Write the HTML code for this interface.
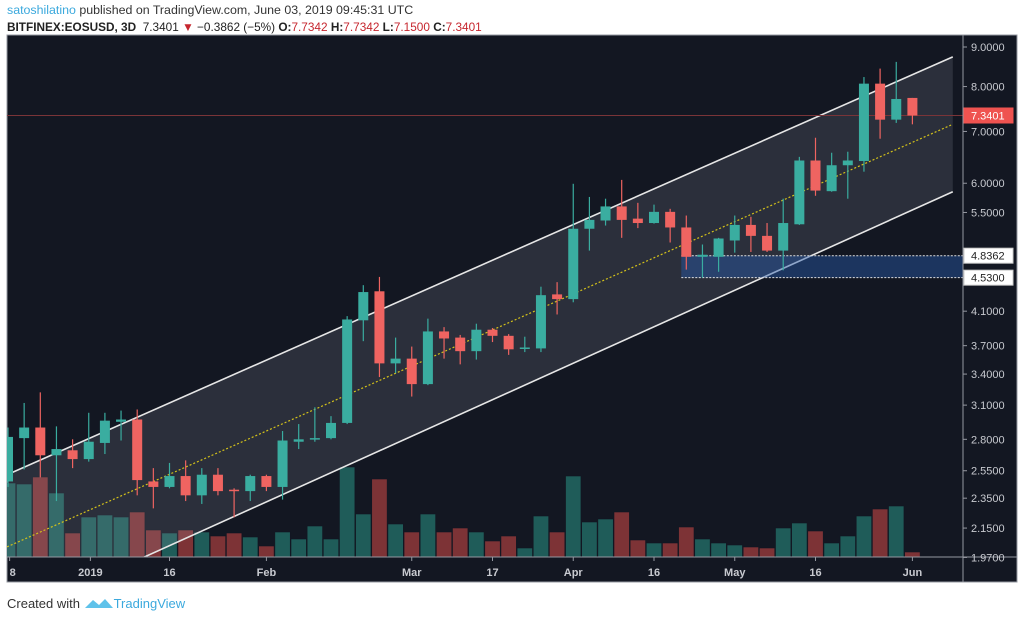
<!DOCTYPE html>
<html><head><meta charset="utf-8">
<style>
html,body{margin:0;padding:0;background:#fff;width:1024px;height:619px;overflow:hidden;font-family:"Liberation Sans",sans-serif;}
#hdr1{position:absolute;left:7px;top:3px;font-size:12.4px;color:#333;}
#hdr1 .u{color:#3ba9dd;}
#hdr2{position:absolute;left:7px;top:20px;font-size:11.8px;color:#222;}
#hdr2 b{font-weight:bold;}
#hdr2 .r{color:#c6262e;}
#foot{position:absolute;left:7px;top:594px;font-size:13px;color:#333;}
#foot .tv{color:#3ba9dd;}
svg{position:absolute;left:0;top:0;}
</style></head>
<body>
<div id="hdr1"><span class="u">satoshilatino</span> published on TradingView.com, June 03, 2019 09:45:31 UTC</div>
<div id="hdr2"><b>BITFINEX:EOSUSD, 3D</b>&nbsp; 7.3401 <span class="r">▼</span> −0.3862 (−5%) <b>O:</b><span class="r">7.7342</span> <b>H:</b><span class="r">7.7342</span> <b>L:</b><span class="r">7.1500</span> <b>C:</b><span class="r">7.3401</span></div>
<svg id="chart" width="1024" height="619"></svg>
<div id="foot">Created with <svg width="30" height="14" viewBox="0 0 30 14" style="position:relative;left:0;top:2px;display:inline-block"><path d="M1 12 L9 4 L15 9 L21 3 L29 12 Z" fill="#5fc2ea"/></svg><span class="tv">TradingView</span></div>
<script>
const opens  =[2.47,2.81,2.90,2.67,2.71,2.64,2.77,2.95,2.97,2.47,2.43,2.51,2.37,2.52,2.41,2.40,2.51,2.43,2.78,2.80,2.81,2.94,3.99,4.35,3.51,3.56,3.30,3.86,3.79,3.64,3.88,3.81,3.67,3.67,4.31,4.25,5.24,5.37,5.60,5.40,5.33,5.51,5.26,4.82,4.82,5.06,5.30,5.13,4.91,5.31,6.42,5.86,6.33,6.41,8.07,7.25,7.7342];
const highs  =[2.90,3.12,3.22,2.91,2.80,3.03,3.03,3.05,3.06,2.57,2.61,2.63,2.57,2.57,2.42,2.52,2.52,2.87,2.93,3.08,3.00,4.04,4.43,4.54,3.79,3.69,4.01,3.91,3.82,3.95,3.90,3.83,3.80,4.41,4.47,5.99,5.76,5.73,6.06,5.66,5.63,5.56,5.45,5.00,5.10,5.45,5.43,5.33,5.73,6.49,6.87,6.57,6.59,8.23,8.44,8.61,7.7342];
const lows   =[2.43,2.56,2.50,2.33,2.57,2.62,2.68,2.79,2.37,2.28,2.42,2.33,2.31,2.37,2.22,2.33,2.40,2.34,2.72,2.78,2.80,2.93,3.75,3.37,3.41,3.18,3.29,3.56,3.50,3.55,3.74,3.60,3.63,3.63,4.06,4.21,4.91,5.29,5.10,5.25,5.32,5.03,4.64,4.53,4.61,4.88,4.89,4.89,4.63,5.30,5.78,5.85,5.73,6.21,6.85,7.18,7.15];
const closes =[2.82,2.90,2.67,2.72,2.64,2.78,2.96,2.97,2.48,2.43,2.51,2.37,2.52,2.40,2.40,2.51,2.43,2.79,2.80,2.81,2.94,4.00,4.34,3.51,3.56,3.30,3.86,3.78,3.64,3.88,3.81,3.66,3.68,4.30,4.25,5.24,5.38,5.60,5.38,5.33,5.51,5.26,4.82,4.85,5.09,5.30,5.13,4.91,5.33,6.42,5.87,6.33,6.42,8.07,7.25,7.71,7.3401];
const volumes=[74,73,80,64,24,40,42,40,45,27,24,27,25,21,24,20,11,25,18,31,18,90,43,78,33,25,43,25,29,25,16,21,9,41,25,81,35,38,45,17,14,14,30,18,14,12,10,9,29,34,26,14,21,41,48,51,5];
const priceTicks=[9.0,8.0,7.0,6.0,5.5,4.1,3.7,3.4,3.1,2.8,2.55,2.35,2.15,1.97];
const timeLabels=["8","2019","16","Feb","Mar","17","Apr","16","May","16","Jun"];
const timeLabelIdx=[0.1,5.1,10,16,25,30,35,40,45,50,56];
const zoneTop=4.8362, zoneBottom=4.53, lastPrice=7.3401;
const chanUpper=[[-0.06,2.52],[58.5,8.74]];
const chanLower=[[-0.06,1.64],[58.5,5.85]];
const volMax=110;

const NS="http://www.w3.org/2000/svg";
const svg=document.getElementById('chart');
const L=7,R=963,T=35,B=557,FR=1017,FB=582;
const x=i=>8+i*16.15;
const y=p=>47+Math.log(9/p)*336;
const vy=v=>B-v/volMax*110;
function mk(tag,attrs,parent){const e=document.createElementNS(NS,tag);for(const k in attrs)e.setAttribute(k,attrs[k]);(parent||svg).appendChild(e);return e;}

let e;
e=mk('rect',{x:L,y:T,width:FR-L,height:FB-T,fill:'#131722',stroke:'#9598a1','stroke-width':1});


const defs=mk('defs',{});
const cp=mk('clipPath',{id:'plotclip'},defs);
mk('rect',{x:L,y:T,width:R-L,height:B-T},cp);
const plot=mk('g',{'clip-path':'url(#plotclip)'});



volumes.forEach((v,i)=>{
  const up=closes[i]>=opens[i];
  const r=mk('rect',{x:x(i)-7.7,y:vy(v),width:15.4,height:B-vy(v),fill:up?'#1f5c59':'#7d3336',stroke:'#131722','stroke-width':0.6},plot);
  
  
});

const u0=[x(chanUpper[0][0]),y(chanUpper[0][1])],u1=[x(chanUpper[1][0]),y(chanUpper[1][1])];
const l0=[x(chanLower[0][0]),y(chanLower[0][1])],l1=[x(chanLower[1][0]),y(chanLower[1][1])];
e=mk('polygon',{points:`${u0} ${u1} ${l1} ${l0}`,fill:'rgba(190,195,215,0.14)'},plot);


e=mk('line',{x1:u0[0],y1:u0[1],x2:u1[0],y2:u1[1],stroke:'#e6e6e6','stroke-width':1.6},plot);


e=mk('line',{x1:l0[0],y1:l0[1],x2:l1[0],y2:l1[1],stroke:'#e6e6e6','stroke-width':1.6},plot);


e=mk('line',{x1:u0[0],y1:(u0[1]+l0[1])/2,x2:u1[0],y2:(u1[1]+l1[1])/2,stroke:'#d4c21a','stroke-width':1.2,'stroke-dasharray':'2,2'},plot);



e=mk('rect',{x:x(42)-5,y:y(zoneTop),width:R-x(42)+5,height:y(zoneBottom)-y(zoneTop),fill:'rgba(40,90,170,0.45)'},plot);


[zoneTop,zoneBottom].forEach(p=>{
  const ln=mk('line',{x1:x(42)-5,y1:y(p),x2:R,y2:y(p),stroke:'#e0e0e0','stroke-width':1,'stroke-dasharray':'2,1.5'},plot);
  
  
});

e=mk('line',{x1:L,y1:y(lastPrice),x2:R,y2:y(lastPrice),stroke:'#7a3438','stroke-width':1},plot);



opens.forEach((o,i)=>{
  const c=closes[i],up=c>=o,col=up?'#3aada0':'#ef6461';
  const g=mk('g',{},plot);
  
  
  mk('line',{x1:x(i),y1:y(highs[i]),x2:x(i),y2:y(lows[i]),stroke:col,'stroke-width':1.2},g);
  const top=y(Math.max(o,c)),bot=y(Math.min(o,c));
  mk('rect',{x:x(i)-5,y:top,width:10,height:Math.max(1.5,bot-top),fill:col},g);
});

e=mk('line',{x1:R,y1:T,x2:R,y2:FB,stroke:'#9598a1','stroke-width':1});


e=mk('line',{x1:L,y1:B,x2:FR,y2:B,stroke:'#9598a1','stroke-width':1});



priceTicks.forEach(p=>{
  const yy=y(p);
  const t=mk('line',{x1:R,y1:yy,x2:R+4,y2:yy,stroke:'#9598a1'});
  
  
  const tx=mk('text',{x:R+8,y:yy+4,fill:'#c8cad0','font-size':11,'font-family':'Liberation Sans, sans-serif'});
  tx.textContent=p.toFixed(4);
  
  
});
function plabel(p,bg,fg,name){
  const g=mk('g',{});
  
  
  mk('rect',{x:R+1,y:y(p)-7.5,width:49,height:15,fill:bg,stroke:bg==='#fff'?'#ccc':bg},g);
  const t=mk('text',{x:R+8,y:y(p)+4,fill:fg,'font-size':11,'font-family':'Liberation Sans, sans-serif'},g);
  t.textContent=p.toFixed(4);
}
plabel(zoneTop,'#fff','#222','zone-top-label');
plabel(zoneBottom,'#fff','#222','zone-bottom-label');
plabel(lastPrice,'#ef5350','#fff','last-price-label');

timeLabels.forEach((s,k)=>{
  const xx=x(timeLabelIdx[k]);
  const t=mk('line',{x1:xx,y1:B,x2:xx,y2:B+4,stroke:'#9598a1'});
  
  
  const tx=mk('text',{x:xx,y:B+19,fill:'#c8cad0','font-size':11,'font-weight':'bold','text-anchor':k===0?'start':'middle','font-family':'Liberation Sans, sans-serif'});
  tx.textContent=s;
  
  
});
</script>
</body></html>
